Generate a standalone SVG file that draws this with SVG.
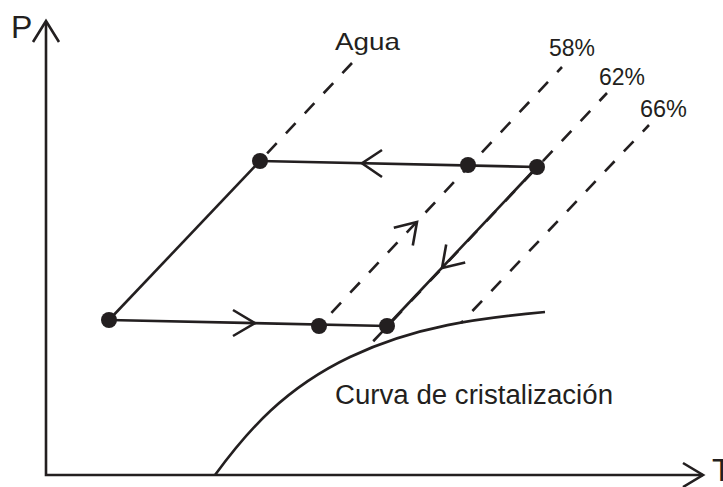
<svg xmlns="http://www.w3.org/2000/svg" width="723" height="487" viewBox="0 0 723 487">
<style>
.ln{fill:none;stroke:#231f20;stroke-width:2.6;stroke-linecap:butt;stroke-linejoin:miter}
.ds{fill:none;stroke:#231f20;stroke-width:2.6;stroke-dasharray:14 13.5}
.dot{fill:#231f20}
text{font-family:"Liberation Sans",Arial,sans-serif;fill:#231f20}
</style>
<rect width="723" height="487" fill="#ffffff"/>
<g id="axes">
<path class="ln" d="M46,22 V475 H703"/>
<polyline class="ln" points="33,42 46,21 59,42"/>
<polyline class="ln" points="683,463 703,475 683,487"/>
<text x="11" y="38" font-size="32">P</text>
<text x="712" y="481" font-size="32">T</text>
</g>
<g id="crystallization-curve">
<path class="ln" d="M215,475 C248,430 285,388 350,357 C415,326 480,318 545,312"/>
<text x="335" y="404" font-size="27" textLength="278" lengthAdjust="spacingAndGlyphs">Curva de cristalización</text>
</g>
<g id="dashed-lines">
<line class="ds" x1="352" y1="63" x2="260" y2="161"/>
<line class="ds" x1="562" y1="67" x2="319" y2="326" stroke-dashoffset="7"/>
<line class="ds" x1="607" y1="93" x2="365" y2="350" stroke-dashoffset="3"/>
<line class="ds" x1="649" y1="125" x2="461" y2="323" stroke-dashoffset="5"/>
<text x="335" y="50" font-size="24" textLength="65" lengthAdjust="spacingAndGlyphs">Agua</text>
<text x="549" y="56" font-size="24" textLength="46" lengthAdjust="spacingAndGlyphs">58%</text>
<text x="599" y="85" font-size="24" textLength="46" lengthAdjust="spacingAndGlyphs">62%</text>
<text x="640" y="117" font-size="24" textLength="47" lengthAdjust="spacingAndGlyphs">66%</text>
</g>
<g id="connectors">
<line class="ln" x1="260" y1="161" x2="109" y2="320"/>
<line class="ln" x1="537" y1="167" x2="260" y2="161"/>
<line class="ln" x1="537" y1="167" x2="387" y2="326"/>
<line class="ln" x1="109" y1="320" x2="387" y2="326"/>
<polyline class="ln" points="382,150 362,163.2 382,177"/>
<polyline class="ln" points="233,310 255,323.2 233,336"/>
<polyline class="ln" points="465.2,262.4 442,268 446.2,244.6"/>
<polyline class="ln" points="393.8,227.7 417,222 412.8,245.5"/>
</g>
<g id="node-a"><circle class="dot" cx="260" cy="161" r="8"/></g>
<g id="node-b"><circle class="dot" cx="468" cy="165" r="8"/></g>
<g id="node-c"><circle class="dot" cx="537" cy="167" r="8"/></g>
<g id="node-d"><circle class="dot" cx="109" cy="320" r="8"/></g>
<g id="node-e"><circle class="dot" cx="319" cy="326" r="8"/></g>
<g id="node-f"><circle class="dot" cx="387" cy="326" r="8"/></g>
</svg>
